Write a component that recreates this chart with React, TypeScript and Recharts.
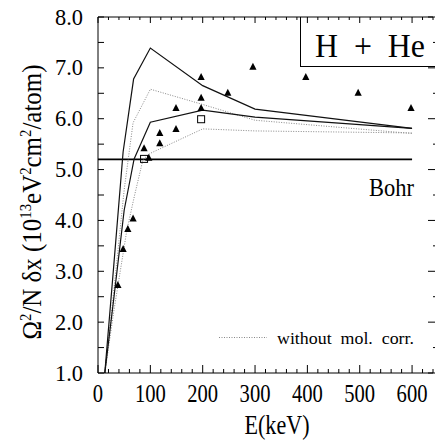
import { ComposedChart, Line, Scatter, XAxis, YAxis } from "recharts";

// energies in keV, stopping values in 1e13 eV^2 cm^2 / atom
const solidUpper = [
  { e: 13, v: 1.0 }, { e: 30, v: 3.1 }, { e: 48, v: 5.35 }, { e: 68, v: 6.78 },
  { e: 100, v: 7.39 }, { e: 200, v: 6.65 }, { e: 300, v: 6.19 }, { e: 600, v: 5.81 },
];
const dottedUpper = [
  { e: 13, v: 1.0 }, { e: 30, v: 2.6 }, { e: 50, v: 4.6 }, { e: 67, v: 5.92 },
  { e: 100, v: 6.58 }, { e: 200, v: 6.28 }, { e: 300, v: 5.97 }, { e: 600, v: 5.71 },
];
const solidLower = [
  { e: 13, v: 1.0 }, { e: 30, v: 2.45 }, { e: 50, v: 4.2 }, { e: 69, v: 5.21 },
  { e: 100, v: 5.93 }, { e: 200, v: 6.17 }, { e: 300, v: 6.03 }, { e: 600, v: 5.81 },
];
const dottedLower = [
  { e: 13, v: 1.0 }, { e: 30, v: 2.2 }, { e: 55, v: 3.8 }, { e: 70, v: 4.5 },
  { e: 86, v: 5.2 }, { e: 100, v: 5.32 }, { e: 200, v: 5.8 }, { e: 300, v: 5.76 }, { e: 600, v: 5.72 },
];
const bohr = [{ e: 0, v: 5.2 }, { e: 600, v: 5.2 }];

const triangles = [
  { e: 38, v: 2.73 }, { e: 48, v: 3.44 }, { e: 57, v: 3.83 }, { e: 67, v: 4.04 },
  { e: 88, v: 5.42 }, { e: 97, v: 5.23 }, { e: 118, v: 5.52 }, { e: 118, v: 5.72 },
  { e: 149, v: 5.8 }, { e: 149, v: 6.21 }, { e: 197, v: 6.21 }, { e: 197, v: 6.41 },
  { e: 197, v: 6.82 }, { e: 248, v: 6.51 }, { e: 296, v: 7.02 }, { e: 397, v: 6.82 },
  { e: 497, v: 6.51 }, { e: 598, v: 6.21 },
];
const squares = [{ e: 88, v: 5.21 }, { e: 197, v: 5.99 }];

const xTicks = [
  0, 20, 40, 60, 80, 100, 120, 140, 160, 180, 200, 220, 240, 260, 280, 300, 320,
  340, 360, 380, 400, 420, 440, 460, 480, 500, 520, 540, 560, 580, 600, 620, 640,
];
const xLabels = [0, 100, 200, 300, 400, 500, 600];
const yTicks = [1, 1.5, 2, 2.5, 3, 3.5, 4, 4.5, 5, 5.5, 6, 6.5, 7, 7.5, 8];

const PL = 98;
const PT = 17;
const PB = 373;
const RIGHT = 435;
const serif = { fontFamily: "Liberation Serif", whiteSpace: "pre" } as const;

const LeftTick = (p: any) => {
  const v = p.payload.value;
  const major = Number.isInteger(v);
  return (
    <g>
      <line x1={PL} x2={PL + 6} y1={p.y} y2={p.y} stroke="#000" />
      {major && (
        <text x={83} y={p.y + 7.5} textAnchor="end" fontSize={23} style={serif} fill="#000"
          textLength={28} lengthAdjust="spacingAndGlyphs">
          {v.toFixed(1)}
        </text>
      )}
    </g>
  );
};

const RightTick = (p: any) => {
  const v = p.payload.value;
  const major = Number.isInteger(v);
  return <line x1={major ? RIGHT - 7 : RIGHT - 2} x2={RIGHT} y1={p.y} y2={p.y} stroke="#000" />;
};

const BottomTick = (p: any) => {
  const v = p.payload.value;
  const major = v % 100 === 0;
  const label = xLabels.includes(v);
  const s = String(v);
  return (
    <g>
      <line x1={p.x} x2={p.x} y1={PB} y2={PB - (major ? 8 : 4)} stroke="#000" />
      {label && (
        <text x={p.x} y={402} textAnchor="middle" fontSize={26} style={serif} fill="#000"
          textLength={s.length * 10.3} lengthAdjust="spacingAndGlyphs">
          {s}
        </text>
      )}
    </g>
  );
};

const TopTick = (p: any) => {
  const v = p.payload.value;
  const major = v % 100 === 0;
  return <line x1={p.x} x2={p.x} y1={PT} y2={PT + (major ? 6 : 3)} stroke="#000" />;
};

const Triangle = (p: any) => (
  <polygon points={`${p.cx},${p.cy - 4} ${p.cx + 3.6},${p.cy + 3} ${p.cx - 3.6},${p.cy + 3}`} fill="#000" />
);
const Square = (p: any) => (
  <rect x={p.cx - 3.5} y={p.cy - 3.5} width={7} height={7} fill="none" stroke="#000" strokeWidth={1} />
);

export default function App() {
  return (
    <div style={{ position: "absolute", left: 0, top: 0, width: 435, height: 442, background: "#fff" }}>
      <ComposedChart width={435} height={442} margin={{ top: 0, right: 0, bottom: 0, left: 0 }}>
        <XAxis type="number" dataKey="e" domain={[0, 640]} allowDataOverflow ticks={xTicks} interval={0}
          height={69} tickLine={false} tick={BottomTick} axisLine={{ stroke: "#000" }} />
        <XAxis xAxisId="t" orientation="top" type="number" dataKey="e" domain={[0, 640]} allowDataOverflow
          ticks={xTicks} interval={0} height={17} tickLine={false} tick={TopTick} axisLine={{ stroke: "#000" }} />
        <YAxis type="number" dataKey="v" domain={[1, 8]} allowDataOverflow ticks={yTicks} interval={0}
          width={98} tickLine={false} tick={LeftTick} axisLine={{ stroke: "#000" }} />
        <YAxis yAxisId="r" orientation="right" type="number" dataKey="v" domain={[1, 8]} allowDataOverflow
          ticks={yTicks} interval={0} width={2} tickLine={false} tick={RightTick} axisLine={false} />
        <Line data={bohr} dataKey="v" stroke="#000" strokeWidth={1.6} dot={false} isAnimationActive={false} />
        <Line data={dottedLower} dataKey="v" stroke="#888" strokeWidth={1} strokeDasharray="1 1.5" dot={false} isAnimationActive={false} />
        <Line data={dottedUpper} dataKey="v" stroke="#888" strokeWidth={1} strokeDasharray="1 1.5" dot={false} isAnimationActive={false} />
        <Line data={solidLower} dataKey="v" stroke="#111" strokeWidth={1.2} dot={false} isAnimationActive={false} />
        <Line data={solidUpper} dataKey="v" stroke="#111" strokeWidth={1.2} dot={false} isAnimationActive={false} />
        <Scatter data={triangles} dataKey="v" shape={Triangle} isAnimationActive={false} />
        <Scatter data={squares} dataKey="v" shape={Square} isAnimationActive={false} />
      </ComposedChart>
      <svg width={435} height={442} style={{ position: "absolute", left: 0, top: 0, pointerEvents: "none" }}>
        <line x1={300.5} x2={300.5} y1={PT} y2={67} stroke="#000" />
        <line x1={300.5} x2={RIGHT} y1={66.5} y2={66.5} stroke="#000" />
        <text x={315} y={57} fontSize={33} style={serif} textLength={110} lengthAdjust="spacingAndGlyphs">
          {"H  +  He"}
        </text>
        <text x={369} y={196} fontSize={26} style={serif} textLength={45} lengthAdjust="spacingAndGlyphs">
          Bohr
        </text>
        <line x1={219} x2={267} y1={337.5} y2={337.5} stroke="#888" strokeDasharray="1 1.5" />
        <text x={277} y={344} fontSize={17} style={serif} textLength={137} lengthAdjust="spacingAndGlyphs">
          {"without  mol.  corr."}
        </text>
        <text x={277} y={434} textAnchor="middle" fontSize={27} style={serif} textLength={65} lengthAdjust="spacingAndGlyphs">
          E(keV)
        </text>
        <text transform="translate(41,202) rotate(-90)" textAnchor="middle" fontSize={27} style={serif}
          textLength={275} lengthAdjust="spacingAndGlyphs">
          Ω<tspan fontSize={16} dy={-10}>2</tspan>
          <tspan dy={10}>{"/N δx (10"}</tspan>
          <tspan fontSize={16} dy={-10}>13</tspan>
          <tspan dy={10}>eV</tspan>
          <tspan fontSize={16} dy={-10}>2</tspan>
          <tspan dy={10}>cm</tspan>
          <tspan fontSize={16} dy={-10}>2</tspan>
          <tspan dy={10}>/atom)</tspan>
        </text>
      </svg>
    </div>
  );
}
